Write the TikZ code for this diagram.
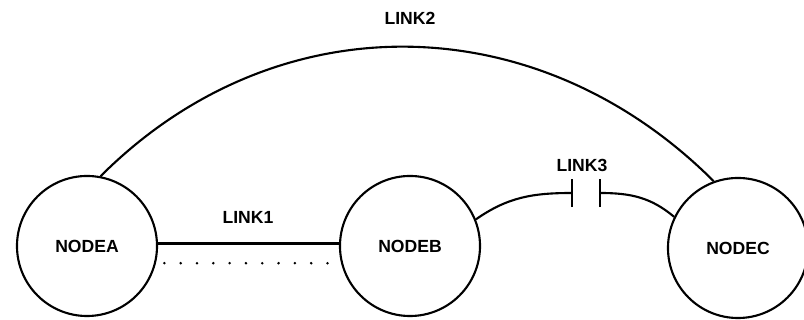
\documentclass[tikz,border=0pt]{standalone}
\usepackage{fontspec}
\setmainfont{Liberation Sans}

\begin{document}
\begin{tikzpicture}[x=0.025cm,y=0.025cm,line width=1.5pt,
    site/.style={draw,circle,minimum size=3.5cm,inner sep=0pt,font=\bfseries\fontsize{12.5}{15}\selectfont},
    lbl/.style={font=\bfseries\fontsize{12.5}{15}\selectfont}]
    \useasboundingbox (0,0) rectangle (804,320);
    \node[site] (nodea) at (87,74) {NODEA};
    \node[site] (nodeb) at (410,74) {NODEB};
    \node[site] (nodec) at (738,72) {NODEC};
    \coordinate (capl) at (572,127);
    \coordinate (capr) at (600,127);
    % links
    \draw (nodea.2) -- (nodeb.178);
    \draw[line width=2pt,dash pattern=on 0pt off 11.6pt,dash phase=-6pt,line cap=round] (nodea.-14) -- (nodeb.194);
    \draw (nodea.79) .. controls +(4.4cm,4.4cm) and +(-4.4cm,4.4cm) .. (nodec.110);
    \draw (nodeb.22) to[out=35,in=180] (capl);
    \draw (capr) to[out=0,in=140] (nodec.154);
    \draw ([yshift=-10]capl) -- ([yshift=10]capl);
    \draw ([yshift=-10]capr) -- ([yshift=10]capr);
    \node[lbl] (link1) at (248,103) {LINK1};
    \node[lbl] (link2) at (410,302) {LINK2};
    \node[lbl] (link3) at (582,155) {LINK3};
  \end{tikzpicture}
\end{document}
